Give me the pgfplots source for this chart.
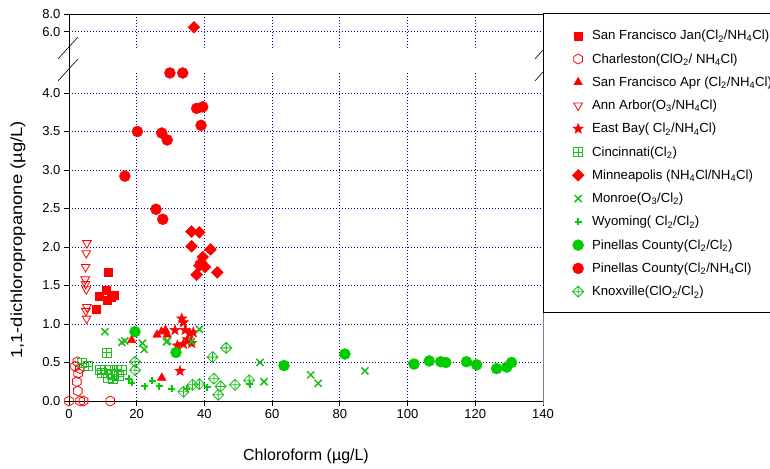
\documentclass[border=0pt]{standalone}
\usepackage{fontspec}
\setmainfont{Liberation Sans}
\usepackage{pgfplots}
\pgfplotsset{compat=1.18}

\definecolor{pred}{RGB}{255,0,0}
\definecolor{pgreen}{RGB}{0,204,0}
\definecolor{lgreen}{RGB}{30,190,30}
\definecolor{gridblue}{RGB}{0,0,140}

% extra marks
\pgfdeclareplotmark{hexagon}{%
  \pgfpathmoveto{\pgfpointpolar{90}{\pgfplotmarksize}}%
  \pgfpathlineto{\pgfpointpolar{150}{\pgfplotmarksize}}%
  \pgfpathlineto{\pgfpointpolar{210}{\pgfplotmarksize}}%
  \pgfpathlineto{\pgfpointpolar{270}{\pgfplotmarksize}}%
  \pgfpathlineto{\pgfpointpolar{330}{\pgfplotmarksize}}%
  \pgfpathlineto{\pgfpointpolar{30}{\pgfplotmarksize}}%
  \pgfpathclose\pgfusepathqstroke}
\pgfdeclareplotmark{boxplus}{%
  \pgfpathrectangle{\pgfpoint{-\pgfplotmarksize}{-\pgfplotmarksize}}{\pgfpoint{2\pgfplotmarksize}{2\pgfplotmarksize}}%
  \pgfpathmoveto{\pgfpoint{-\pgfplotmarksize}{0pt}}\pgfpathlineto{\pgfpoint{\pgfplotmarksize}{0pt}}%
  \pgfpathmoveto{\pgfpoint{0pt}{-\pgfplotmarksize}}\pgfpathlineto{\pgfpoint{0pt}{\pgfplotmarksize}}%
  \pgfusepathqstroke}
\pgfdeclareplotmark{diamondplus}{%
  \pgfpathmoveto{\pgfpoint{0pt}{\pgfplotmarksize}}%
  \pgfpathlineto{\pgfpoint{\pgfplotmarksize}{0pt}}%
  \pgfpathlineto{\pgfpoint{0pt}{-\pgfplotmarksize}}%
  \pgfpathlineto{\pgfpoint{-\pgfplotmarksize}{0pt}}\pgfpathclose
  \pgfpathmoveto{\pgfpoint{-\pgfplotmarksize}{0pt}}\pgfpathlineto{\pgfpoint{\pgfplotmarksize}{0pt}}%
  \pgfpathmoveto{\pgfpoint{0pt}{-\pgfplotmarksize}}\pgfpathlineto{\pgfpoint{0pt}{\pgfplotmarksize}}%
  \pgfusepathqstroke}
\pgfdeclareplotmark{fstar}{%
  \pgfpathmoveto{\pgfpointpolar{90}{\pgfplotmarksize}}%
  \pgfpathlineto{\pgfpointpolar{126}{0.42\pgfplotmarksize}}%
  \pgfpathlineto{\pgfpointpolar{162}{\pgfplotmarksize}}%
  \pgfpathlineto{\pgfpointpolar{198}{0.42\pgfplotmarksize}}%
  \pgfpathlineto{\pgfpointpolar{234}{\pgfplotmarksize}}%
  \pgfpathlineto{\pgfpointpolar{270}{0.42\pgfplotmarksize}}%
  \pgfpathlineto{\pgfpointpolar{306}{\pgfplotmarksize}}%
  \pgfpathlineto{\pgfpointpolar{342}{0.42\pgfplotmarksize}}%
  \pgfpathlineto{\pgfpointpolar{18}{\pgfplotmarksize}}%
  \pgfpathlineto{\pgfpointpolar{54}{0.42\pgfplotmarksize}}%
  \pgfpathclose\pgfusepathqfillstroke}

\pgfplotsset{
  brk/.style={
    scale only axis, width=474pt, anchor=south west,
    xmin=0, xmax=140, enlargelimits=false, clip=false,
    xtick={0,20,...,140},
    grid=major,
    major grid style={gridblue, line width=0.8pt, dash pattern=on 0.9pt off 2.1pt},
    axis line style={-, black, line width=0.8pt},
    tick style={black, line width=0.8pt},
    major tick length=5pt, tick align=outside,
    tick label style={font=\fontsize{13}{15}\selectfont},
    /pgf/number format/assume math mode=true,
    yticklabel style={/pgf/number format/.cd, fixed, fixed zerofill, precision=1},
  },
  mnp/.style={only marks, mark=square*, mark size=4.2pt, mark options={rotate=45}, draw=pred, fill=pred},
}

\begin{document}
\begin{tikzpicture}[x=1pt,y=1pt]
\useasboundingbox (0,0) rectangle (770,468);

% upper part of the broken axis
\begin{axis}[brk, at={(69pt,420pt)}, height=34pt,
  ymin=4.17, ymax=8, ytick={6,8},
  axis x line*=top, axis y line*=left,
  xticklabels={}, xtick style={draw=none}]
\addplot[mnp] coordinates {(36.9,6.5)};
\end{axis}

% lower part
\begin{axis}[brk, at={(69pt,67pt)}, height=329pt,
  ymin=0, ymax=4.2727, ytick={0,0.5,...,4},
  axis x line*=bottom, axis y line*=left,
  legend style={draw=none, fill=none, at={(1.0612,1.1337)}, anchor=north west,
    font=\fontsize{13.2}{15}\selectfont, row sep=8.2pt, column sep=6pt, inner sep=0pt,
    cells={anchor=west}},
  legend cell align=left]

\addplot[only marks, mark=square*, mark size=4pt, draw=pred, fill=pred] coordinates {
(11.6,1.67) (10.9,1.44) (9.0,1.36) (12.4,1.35) (13.4,1.38) (11.4,1.31) (8.0,1.19)};
\addlegendentry{San Francisco Jan(Cl\textsubscript{2}/NH\textsubscript{4}Cl)}

\addplot[only marks, mark=hexagon, mark size=5pt, draw=pred, line width=0.8pt] coordinates {
(2.5,0.51) (1.8,0.45) (3.2,0.42) (2.7,0.36) (2.3,0.25) (2.6,0.13)
(0,0) (3.3,0) (4.3,0) (12.2,0)};
\addlegendentry{Charleston(ClO\textsubscript{2}/ NH\textsubscript{4}Cl)}

\addplot[only marks, mark=triangle*, mark size=5pt, draw=pred, fill=pred] coordinates {
(18.5,0.79) (26.0,0.86) (27.3,0.90) (28.5,0.92) (29.0,0.86) (27.4,0.30)};
\addlegendentry{San Francisco Apr (Cl\textsubscript{2}/NH\textsubscript{4}Cl)}

\addplot[only marks, mark=triangle, mark size=5pt, mark options={rotate=180}, draw=pred, line width=0.8pt] coordinates {
(5.3,2.05) (5.1,1.92) (4.9,1.74) (4.8,1.58) (4.9,1.52) (5.1,1.45) (5.3,1.22) (5.0,1.17) (5.2,1.07)};
\addlegendentry{Ann Arbor(O\textsubscript{3}/NH\textsubscript{4}Cl)}

\addplot[only marks, mark=fstar, mark size=5.5pt, draw=pred, fill=pred] coordinates {
(33.3,1.07) (33.8,1.02) (31.3,0.92) (34.3,0.92) (35.7,0.88) (36.7,0.89)
(36.2,0.75) (33.8,0.74) (32.0,0.72) (32.8,0.39) (35.0,0.80)};
\addlegendentry{East Bay( Cl\textsubscript{2}/NH\textsubscript{4}Cl)}

\addplot[only marks, mark=boxplus, mark size=4.5pt, draw=lgreen, line width=0.8pt] coordinates {
(11.1,0.63) (3.7,0.49) (5.7,0.45) (9.2,0.40) (9.6,0.36) (12.1,0.41)
(12.6,0.34) (14.1,0.41) (13.1,0.29) (14.6,0.32) (15.5,0.40) (11.5,0.30)};
\addlegendentry{Cincinnati(Cl\textsubscript{2})}

\addplot[mnp] coordinates {
(36.2,2.20) (38.5,2.19) (36.2,2.01) (41.8,1.97) (39.5,1.87) (39.0,1.80)
(38.5,1.76) (40.2,1.74) (43.8,1.67) (37.7,1.64)};
\addlegendentry{Minneapolis (NH\textsubscript{4}Cl/NH\textsubscript{4}Cl)}

\addplot[only marks, mark=x, mark size=5pt, draw=lgreen, line width=1.5pt] coordinates {
(10.6,0.90) (15.6,0.76) (16.5,0.78) (21.7,0.75) (22.2,0.67) (29.1,0.78)
(28.8,0.77) (36.2,0.77) (38.5,0.93) (56.4,0.50) (57.6,0.25) (71.4,0.34)
(73.6,0.23) (87.4,0.39)};
\addlegendentry{Monroe(O\textsubscript{3}/Cl\textsubscript{2})}

\addplot[only marks, mark=+, mark size=3.5pt, draw=pgreen, line width=2pt] coordinates {
(17.7,0.29) (18.5,0.24) (22.4,0.19) (24.6,0.26) (26.6,0.19) (30.3,0.16)
(34.8,0.16) (40.8,0.18) (53.4,0.22)};
\addlegendentry{Wyoming( Cl\textsubscript{2}/Cl\textsubscript{2})}

\addplot[only marks, mark=*, mark size=5.5pt, draw=pgreen, fill=pgreen] coordinates {
(19.5,0.90) (31.6,0.63) (63.5,0.46) (81.5,0.61) (101.9,0.48) (106.4,0.52)
(109.8,0.51) (111.3,0.50) (117.4,0.51) (120.4,0.47) (126.3,0.42) (129.3,0.44)
(130.7,0.50)};
\addlegendentry{Pinellas County(Cl\textsubscript{2}/Cl\textsubscript{2})}

\addplot[only marks, mark=*, mark size=5.5pt, draw=pred, fill=pred] coordinates {
(29.8,4.26) (33.6,4.26) (37.7,3.80) (39.5,3.82) (39.0,3.58) (20.2,3.50)
(27.4,3.48) (29.0,3.39) (16.5,2.92) (25.7,2.49) (27.7,2.36)};
\addlegendentry{Pinellas County(Cl\textsubscript{2}/NH\textsubscript{4}Cl)}

\addplot[only marks, mark=diamondplus, mark size=5.5pt, draw=lgreen, line width=0.8pt] coordinates {
(19.5,0.51) (19.5,0.40) (46.4,0.69) (42.4,0.57) (42.8,0.29) (33.8,0.12)
(36.5,0.21) (38.5,0.22) (44.8,0.19) (44.1,0.08) (49.0,0.21) (53.2,0.27)};
\addlegendentry{Knoxville(ClO\textsubscript{2}/Cl\textsubscript{2})}
\end{axis}

% frame pieces and break marks
\draw[black, line width=0.8pt] (69,396) -- (69,420);
\draw[gray, line width=1pt] (543,63) -- (543,454);
\draw[black, line width=1pt] (543,454) rectangle (800,155);
\draw[black, line width=0.6pt] (58,409) -- (78,431) (58,387) -- (78,409);
\draw[black, line width=0.6pt] (535,409) -- (543,418) (535,387) -- (543,396);

\node[rotate=90, xscale=1.15, font=\fontsize{16}{18}\selectfont] at (18,228) {1,1-dichloropropanone (µg/L)};
\node[font=\fontsize{16}{18}\selectfont] at (306,12) {Chloroform (µg/L)};
\end{tikzpicture}
\end{document}
